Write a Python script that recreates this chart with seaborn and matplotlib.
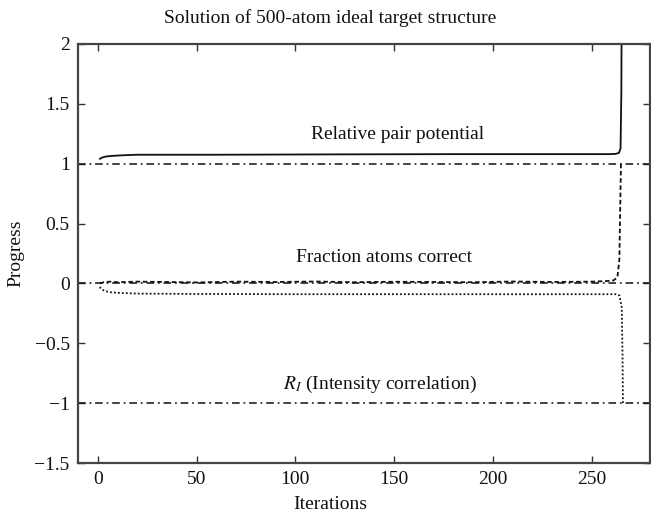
import matplotlib
matplotlib.use("Agg")
import matplotlib.pyplot as plt
import seaborn as sns
import pandas as pd

# ---- data ----
pair_iter = [1, 2, 4, 7, 12, 20, 60, 120, 180, 240, 258, 262, 263.8, 264.6, 265.0, 265.2]
pair_val = [1.04, 1.05, 1.06, 1.065, 1.07, 1.075, 1.075, 1.078, 1.08, 1.08, 1.08, 1.082, 1.09, 1.13, 1.6, 2.5]

frac_iter = [1, 3, 6, 10, 20, 35, 50, 70, 90, 110, 130, 150, 170, 190, 210, 230, 250, 258, 261, 263, 264, 264.4, 264.8]
frac_val = [0.0, 0.01, 0.015, 0.01, 0.015, 0.012, 0.008, 0.015, 0.012, 0.016, 0.01, 0.014, 0.012, 0.01, 0.016, 0.012, 0.015, 0.02, 0.025, 0.05, 0.2, 0.6, 1.0]

ri_iter = [1, 2, 4, 7, 12, 20, 50, 100, 150, 200, 250, 262, 264, 265.2, 265.6, 265.8]
ri_val = [-0.03, -0.05, -0.065, -0.075, -0.08, -0.085, -0.088, -0.09, -0.09, -0.09, -0.09, -0.09, -0.1, -0.2, -0.6, -1.0]

ref_levels = [1, 0, -1]

xticks = [0, 50, 100, 150, 200, 250]
yticks = [-1.5, -1, -0.5, 0, 0.5, 1, 1.5, 2]
ytick_labels = ["\u22121.5", "\u22121", "\u22120.5", "0", "0.5", "1", "1.5", "2"]

title = "Solution of 500-atom ideal target structure"
labels = ["Relative pair potential", "Fraction atoms correct", r"$R_I$ (Intensity correlation)"]

# ---- style ----
sns.set_theme(style="ticks")
plt.rcParams["font.family"] = ["Liberation Serif", "DejaVu Serif"]
plt.rcParams["mathtext.fontset"] = "stix"
FS = 14

fig = plt.figure(figsize=(6.51, 5.16), dpi=100)
ax = fig.add_axes([78 / 651, 53 / 516, (650 - 78) / 651, (463 - 44) / 516])

df_pair = pd.DataFrame({"it": pair_iter, "v": pair_val})
df_frac = pd.DataFrame({"it": frac_iter, "v": frac_val})
df_ri = pd.DataFrame({"it": ri_iter, "v": ri_val})

for lvl in ref_levels:
    ax.axhline(lvl, color="#111111", lw=1.1, linestyle=(0, (5, 2.5, 1.2, 2.5)), zorder=1)

sns.lineplot(data=df_pair, x="it", y="v", ax=ax, color="#111111", lw=1.3, sort=False, estimator=None)
sns.lineplot(data=df_frac, x="it", y="v", ax=ax, color="#111111", lw=1.3, sort=False, estimator=None,
             linestyle=(0, (2.5, 1.5)))
sns.lineplot(data=df_ri, x="it", y="v", ax=ax, color="#111111", lw=1.3, sort=False, estimator=None,
             linestyle=(0, (1, 1.2)))

ax.set_xlim(-10, 279.5)
ax.set_ylim(-1.5, 2)
ax.set_xticks(xticks)
ax.set_xticklabels([str(t) for t in xticks], fontsize=FS)
ax.set_yticks(yticks)
ax.set_yticklabels(ytick_labels, fontsize=FS)
ax.tick_params(direction="in", length=5, width=1, colors="#333333", labelcolor="#111111",
               top=True, right=True, pad=6)

for sp in ax.spines.values():
    sp.set_visible(True)
    sp.set_color("#444444")
    sp.set_linewidth(1.6)

ax.set_xlabel("Iterations", fontsize=FS, color="#111111")
ax.set_ylabel("Progress", fontsize=FS, color="#111111")
ax.xaxis.set_label_coords((330 - 78) / (650 - 78), -0.078)
ax.yaxis.set_label_coords(-0.093, 0.5)

fig.text(330 / 651, 1 - 18 / 516, title, ha="center", va="center", fontsize=FS, color="#111111")

ax.text(151.5, 1.24, labels[0], ha="center", va="center", fontsize=FS, color="#111111")
ax.text(145, 0.22, labels[1], ha="center", va="center", fontsize=FS, color="#111111")
ax.text(143, -0.84, labels[2], ha="center", va="center", fontsize=FS, color="#111111")

fig.savefig("out.png", dpi=100)
